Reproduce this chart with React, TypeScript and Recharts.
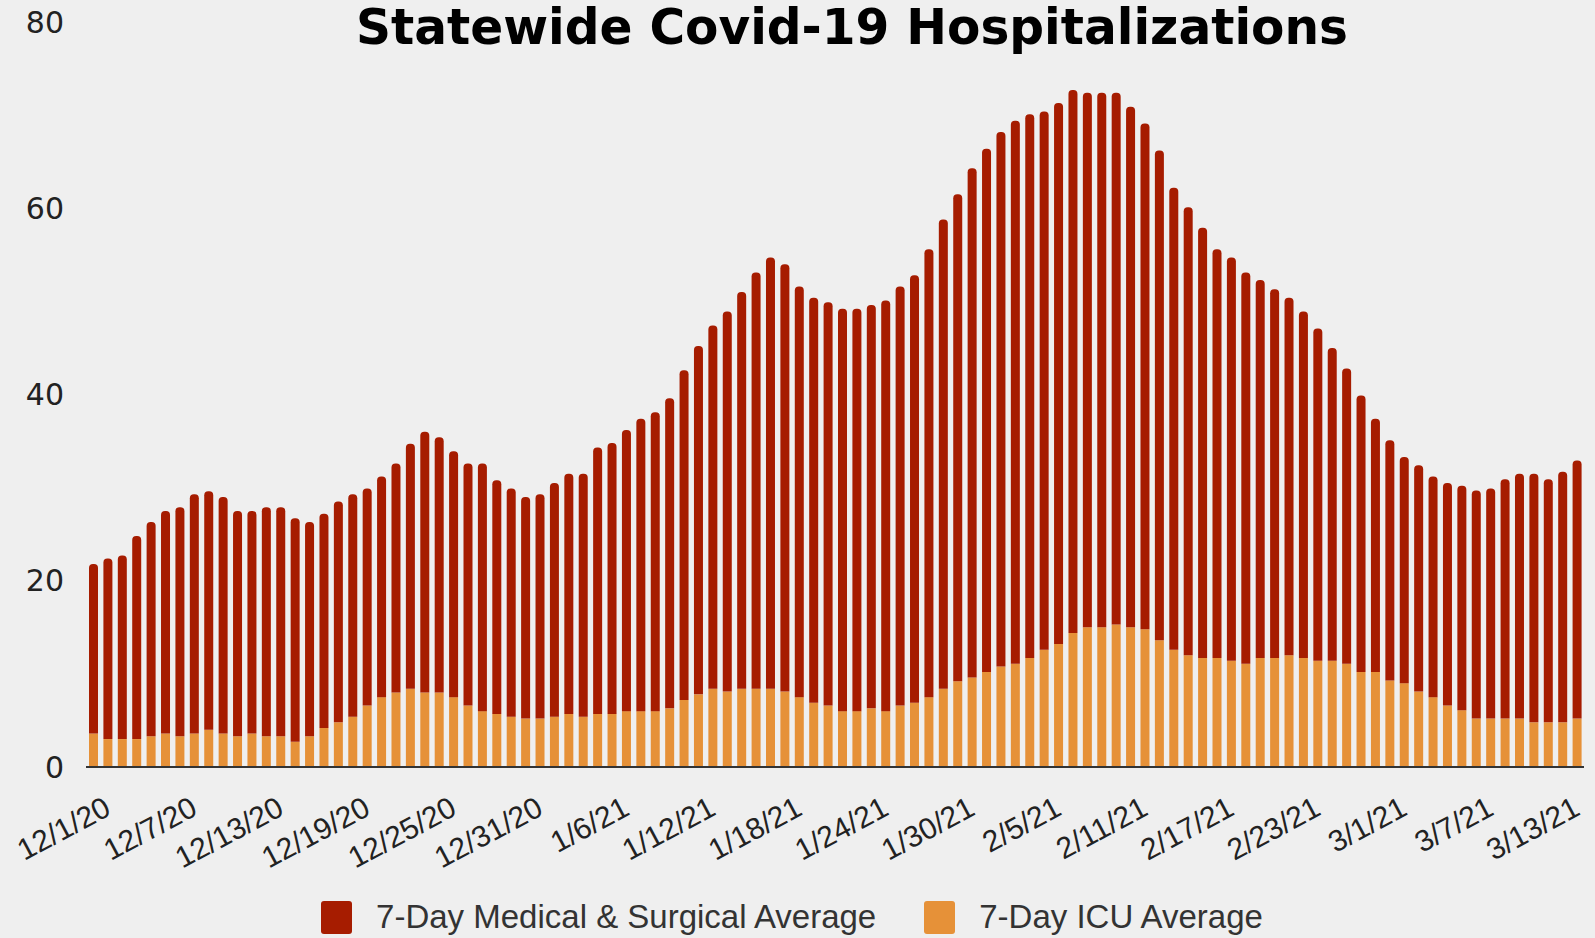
import { BarChart, Bar, XAxis, YAxis, Legend } from "recharts"

const dates = [
  "11/30/20",
  "12/1/20", "12/2/20", "12/3/20", "12/4/20", "12/5/20", "12/6/20", "12/7/20", "12/8/20", "12/9/20", "12/10/20",
  "12/11/20", "12/12/20", "12/13/20", "12/14/20", "12/15/20", "12/16/20", "12/17/20", "12/18/20", "12/19/20", "12/20/20",
  "12/21/20", "12/22/20", "12/23/20", "12/24/20", "12/25/20", "12/26/20", "12/27/20", "12/28/20", "12/29/20", "12/30/20",
  "12/31/20",
  "1/1/21", "1/2/21", "1/3/21", "1/4/21", "1/5/21", "1/6/21", "1/7/21", "1/8/21", "1/9/21", "1/10/21",
  "1/11/21", "1/12/21", "1/13/21", "1/14/21", "1/15/21", "1/16/21", "1/17/21", "1/18/21", "1/19/21", "1/20/21",
  "1/21/21", "1/22/21", "1/23/21", "1/24/21", "1/25/21", "1/26/21", "1/27/21", "1/28/21", "1/29/21", "1/30/21",
  "1/31/21",
  "2/1/21", "2/2/21", "2/3/21", "2/4/21", "2/5/21", "2/6/21", "2/7/21", "2/8/21", "2/9/21", "2/10/21",
  "2/11/21", "2/12/21", "2/13/21", "2/14/21", "2/15/21", "2/16/21", "2/17/21", "2/18/21", "2/19/21", "2/20/21",
  "2/21/21", "2/22/21", "2/23/21", "2/24/21", "2/25/21", "2/26/21", "2/27/21", "2/28/21",
  "3/1/21", "3/2/21", "3/3/21", "3/4/21", "3/5/21", "3/6/21", "3/7/21", "3/8/21", "3/9/21", "3/10/21",
  "3/11/21", "3/12/21", "3/13/21",
]

// 7-day ICU average (bottom of each stack)
const icuAvg = [
  3.6,
  3.0, 3.0, 3.0, 3.3, 3.6, 3.3, 3.6, 4.0, 3.6, 3.3,
  3.6, 3.3, 3.3, 2.7, 3.3, 4.2, 4.8, 5.4, 6.6, 7.5,
  8.0, 8.4, 8.0, 8.0, 7.5, 6.6, 6.0, 5.7, 5.4, 5.2,
  5.2,
  5.4, 5.7, 5.4, 5.7, 5.7, 6.0, 6.0, 6.0, 6.3, 7.2,
  7.8, 8.4, 8.1, 8.4, 8.4, 8.4, 8.1, 7.5, 6.9, 6.6,
  6.0, 6.0, 6.3, 6.0, 6.6, 6.9, 7.5, 8.4, 9.2, 9.6,
  10.2,
  10.8, 11.1, 11.7, 12.6, 13.2, 14.4, 15.0, 15.0, 15.3, 15.0,
  14.8, 13.6, 12.6, 12.0, 11.7, 11.7, 11.4, 11.1, 11.7, 11.7,
  12.0, 11.7, 11.4, 11.4, 11.1, 10.2, 10.2, 9.3,
  9.0, 8.1, 7.5, 6.6, 6.1, 5.2, 5.2, 5.2, 5.2, 4.8,
  4.8, 4.8, 5.2,
]

// 7-day medical & surgical average (stacked on top)
const medSurgAvg = [
  18.2,
  19.4, 19.7, 21.8, 23.0, 23.9, 24.6, 25.7, 25.6, 25.4, 24.2,
  23.9, 24.6, 24.6, 24.0, 23.0, 23.0, 23.7, 23.9, 23.3, 23.7,
  24.6, 26.3, 28.0, 27.4, 26.4, 26.0, 26.6, 25.1, 24.5, 23.8,
  24.1,
  25.1, 25.8, 26.1, 28.6, 29.1, 30.2, 31.4, 32.1, 33.3, 35.4,
  37.4, 39.0, 40.8, 42.6, 44.7, 46.3, 45.9, 44.1, 43.5, 43.3,
  43.2, 43.2, 43.3, 44.1, 45.0, 45.9, 48.1, 50.4, 52.3, 54.7,
  56.2,
  57.4, 58.3, 58.4, 57.8, 58.1, 58.3, 57.4, 57.4, 57.1, 55.9,
  54.3, 52.6, 49.6, 48.1, 46.2, 43.9, 43.3, 42.0, 40.6, 39.6,
  38.4, 37.2, 35.7, 33.6, 31.7, 29.7, 27.2, 25.8,
  24.3, 24.3, 23.7, 23.9, 24.1, 24.5, 24.7, 25.7, 26.3, 26.7,
  26.1, 26.9, 27.7,
]

const tickLabels = [
  "12/1/20", "12/7/20", "12/13/20", "12/19/20", "12/25/20", "12/31/20",
  "1/6/21", "1/12/21", "1/18/21", "1/24/21", "1/30/21",
  "2/5/21", "2/11/21", "2/17/21", "2/23/21",
  "3/1/21", "3/7/21", "3/13/21",
]

const yTicks = [0, 20, 40, 60, 80]

const RED = "#a61c00"
const ORANGE = "#e69138"
const BG = "#efefef"

const data = dates.map((date, i) => ({ date, icu: icuAvg[i], medSurg: medSurgAvg[i] }))

function DateTick({ x, y, payload }: any) {
  const tx = x + 5
  const ty = y + 47
  return (
    <text
      x={tx}
      y={ty}
      textAnchor="end"
      transform={`rotate(-28, ${tx}, ${ty})`}
      fontSize={30}
      fontFamily="'Liberation Sans', Arial, sans-serif"
      fill="#222"
    >
      {payload.value}
    </text>
  )
}

function LegendBox() {
  const item = (color: string, label: string) => (
    <div style={{ display: "flex", alignItems: "center" }}>
      <div style={{ width: 31, height: 33, background: color, borderRadius: 3, marginRight: 24 }} />
      <span style={{ fontSize: 33, color: "#333", fontFamily: "'Liberation Sans', Arial, sans-serif" }}>{label}</span>
    </div>
  )
  return (
    <div style={{ height: 42, display: "flex", justifyContent: "center", alignItems: "center", gap: 48 }}>
      {item(RED, "7-Day Medical & Surgical Average")}
      {item(ORANGE, "7-Day ICU Average")}
    </div>
  )
}

export default function App() {
  return (
    <div style={{ position: "absolute", left: 0, top: 0, width: 1595, height: 938, background: BG, overflow: "hidden" }}>
      <svg width={1595} height={60} style={{ position: "absolute", left: 0, top: 0 }}>
        <text
          x={852}
          y={44}
          textAnchor="middle"
          textLength={992}
          lengthAdjust="spacingAndGlyphs"
          fontSize={49}
          fontWeight={700}
          fontFamily="'DejaVu Sans', sans-serif"
          fill="#000"
        >
          Statewide Covid-19 Hospitalizations
        </text>
      </svg>
      <BarChart width={1595} height={938} data={data} margin={{ top: 22, right: 11, bottom: 0, left: 0 }}>
        <XAxis
          dataKey="date"
          ticks={tickLabels}
          interval={0}
          tick={<DateTick />}
          tickLine={false}
          tickSize={0}
          tickMargin={0}
          height={129}
          axisLine={{ stroke: "#333", strokeWidth: 2 }}
        />
        <YAxis
          domain={[0, 80]}
          ticks={yTicks}
          width={86}
          axisLine={false}
          tickLine={false}
          tickSize={0}
          tickMargin={22}
          tick={{ fontSize: 30, fill: "#222", fontFamily: "'DejaVu Sans', sans-serif" }}
        />
        <Legend verticalAlign="bottom" height={42} content={<LegendBox />} />
        <Bar dataKey="icu" stackId="a" fill={ORANGE} barSize={9} isAnimationActive={false} />
        <Bar dataKey="medSurg" stackId="a" fill={RED} barSize={9} radius={[4, 4, 0, 0]} isAnimationActive={false} />
      </BarChart>
    </div>
  )
}
